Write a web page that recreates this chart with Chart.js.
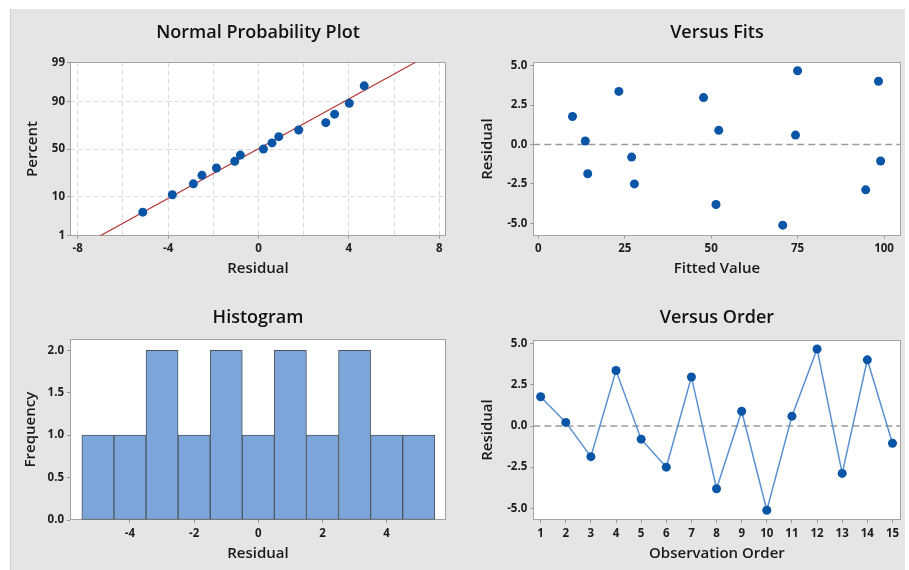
<!DOCTYPE html>
<html><head><meta charset="utf-8">
<script src="https://cdn.jsdelivr.net/npm/chart.js@4.4.0/dist/chart.umd.min.js"></script>
<style>
html,body{margin:0;padding:0;background:#fff;width:909px;height:570px;overflow:hidden;}
#bg{position:absolute;left:10px;top:9px;width:895px;height:561px;background:#e5e5e5;border-left:1px solid #d0d0d0;box-sizing:border-box;}
canvas{position:absolute;}
</style></head><body>
<div id="bg"></div>
<canvas id="c1" width="445" height="276" style="left:10px;top:9px"></canvas>
<canvas id="c2" width="450" height="276" style="left:455px;top:9px"></canvas>
<canvas id="c3" width="445" height="285" style="left:10px;top:285px"></canvas>
<canvas id="c4" width="450" height="285" style="left:455px;top:285px"></canvas>
<script>
// ---------------- data ----------------
const observationOrder = [1,2,3,4,5,6,7,8,9,10,11,12,13,14,15];
const residuals = [1.78, 0.22, -1.86, 3.37, -0.80, -2.50, 2.98, -3.81, 0.90, -5.12, 0.60, 4.68, -2.88, 4.02, -1.05];
const fittedValues = [9.9, 13.6, 14.3, 23.3, 27.0, 27.8, 47.8, 51.4, 52.2, 70.7, 74.4, 75.0, 94.7, 98.4, 99.0];
const probResiduals = [-5.12, -3.81, -2.88, -2.50, -1.86, -1.05, -0.80, 0.22, 0.60, 0.90, 1.78, 2.98, 3.37, 4.02, 4.68];
const probPercents = [4.5, 11.0, 17.5, 24.0, 30.5, 37.0, 43.5, 50.0, 56.5, 63.0, 69.5, 76.0, 82.5, 89.0, 95.5];
const fitLineResiduals = [-7.0, 6.95];
const fitLinePercents = [1, 99];
const percentTicks = [1, 10, 50, 90, 99];
const probXGrid = [-8, -6, -4, -2, 0, 2, 4, 6, 8];
const probXLabels = [-8, -4, 0, 4, 8];
const fitsXTicks = [0, 25, 50, 75, 100];
const residualTicks = [-5, -2.5, 0, 2.5, 5];
const histBinCenters = [-5, -4, -3, -2, -1, 0, 1, 2, 3, 4, 5];
const histCounts = [1, 1, 2, 1, 2, 1, 2, 1, 2, 1, 1];
const histXTicks = [-4, -2, 0, 2, 4];
const histYTicks = [0, 0.5, 1.0, 1.5, 2.0];

// ---------------- helpers ----------------
function normInv(p){
  const a=[-3.969683028665376e+01,2.209460984245205e+02,-2.759285104469687e+02,1.383577518672690e+02,-3.066479806614716e+01,2.506628277459239e+00];
  const b=[-5.447609879822406e+01,1.615858368580409e+02,-1.556989798598866e+02,6.680131188771972e+01,-1.328068155288572e+01];
  const c=[-7.784894002430293e-03,-3.223964580411365e-01,-2.400758277161838e+00,-2.549732539343734e+00,4.374664141464968e+00,2.938163982698783e+00];
  const d=[7.784695709041462e-03,3.224671290700398e-01,2.445134137142996e+00,3.754408661907416e+00];
  const pl=0.02425, ph=1-pl; let q,r;
  if(p<pl){q=Math.sqrt(-2*Math.log(p));return (((((c[0]*q+c[1])*q+c[2])*q+c[3])*q+c[4])*q+c[5])/((((d[0]*q+d[1])*q+d[2])*q+d[3])*q+1);}
  if(p<=ph){q=p-0.5;r=q*q;return (((((a[0]*r+a[1])*r+a[2])*r+a[3])*r+a[4])*r+a[5])*q/(((((b[0]*r+b[1])*r+b[2])*r+b[3])*r+b[4])*r+1);}
  q=Math.sqrt(-2*Math.log(1-p));return -(((((c[0]*q+c[1])*q+c[2])*q+c[3])*q+c[4])*q+c[5])/((((d[0]*q+d[1])*q+d[2])*q+d[3])*q+1);
}
const FONT = "'Open Sans', 'Noto Sans', sans-serif";
const DOT = '#0a55a6';
const TICKC = '#9a9a9a';
const tickFont = {family: FONT, size: 11.5, weight: '700', lineHeight: 1.2};
const axisTitleFont = {family: FONT, size: 15, weight: '600', lineHeight: 1.2};
const titleFont = {family: FONT, size: 18, weight: '600', lineHeight: 1.2};

const framePlugin = {
  id: 'frame',
  beforeDraw(chart){
    const {ctx, chartArea:a} = chart;
    ctx.save(); ctx.fillStyle = '#ffffff';
    ctx.fillRect(a.left, a.top, a.right - a.left, a.bottom - a.top);
    ctx.restore();
  },
  beforeDatasetsDraw(chart){
    const {ctx, chartArea:a} = chart;
    ctx.save(); ctx.strokeStyle = '#a3a3a3'; ctx.lineWidth = 1;
    const l = Math.round(a.left) + 0.5, t = Math.round(a.top) + 0.5;
    const r = Math.round(a.right) - 0.5, b = Math.round(a.bottom) - 0.5;
    ctx.strokeRect(l, t, r - l, b - t);
    ctx.restore();
  }
};

function fixedTicks(values){
  return function(axis){ axis.ticks = values.map(v => ({value: v})); };
}
function xAxis(o){
  return {
    type: 'linear', min: o.min, max: o.max, offset: false,
    afterBuildTicks: fixedTicks(o.ticks),
    afterFit(axis){ axis.height = o.height; axis.paddingLeft = 0; axis.paddingRight = 0; },
    ticks: {autoSkip: false, maxRotation: 0, minRotation: 0, padding: o.tickPad, color: '#1e1e1e', font: tickFont,
            callback: o.label},
    grid: {offset: false, display: true, drawOnChartArea: !!o.gridColor, drawTicks: true, tickLength: 3,
           color: o.gridColor || 'rgba(0,0,0,0)', tickBorderDash: [], tickWidth: 1,
           tickColor: o.tickColor || TICKC, lineWidth: 1},
    border: {display: false, dash: [5, 3]},
    title: {display: true, text: o.title, color: '#1a1a1a', font: axisTitleFont, padding: {top: 0, bottom: o.titlePad}}
  };
}
function yAxis(o){
  return {
    type: 'linear', min: o.min, max: o.max,
    afterBuildTicks: fixedTicks(o.ticks),
    afterFit(axis){ axis.width = o.width; axis.paddingTop = 0; axis.paddingBottom = 0; },
    ticks: {autoSkip: false, padding: o.tickPad, color: '#1e1e1e', font: tickFont, callback: o.label},
    grid: {display: true, drawOnChartArea: !!o.gridColor, drawTicks: true, tickLength: 3,
           color: o.gridColor || 'rgba(0,0,0,0)', tickBorderDash: [], tickWidth: 1,
           tickColor: TICKC, lineWidth: 1},
    border: {display: false, dash: [5, 3]},
    title: {display: true, text: o.title, color: '#1a1a1a', font: axisTitleFont, padding: {top: o.titlePad, bottom: 0}}
  };
}
function basePlugins(text, top, bottom){
  return {
    legend: {display: false}, tooltip: {enabled: false},
    title: {display: true, text: text, fullSize: false, color: '#111', font: titleFont, padding: {top: top, bottom: bottom}}
  };
}
Chart.defaults.animation = false;
Chart.defaults.font.family = FONT;

// ---------------- 1. Normal probability plot ----------------
new Chart(document.getElementById('c1'), {
  type: 'scatter',
  data: {datasets: [
    {type: 'line', data: fitLineResiduals.map((x, i) => ({x: x, y: normInv(fitLinePercents[i] / 100)})),
     borderColor: '#b3302e', borderWidth: 1.2, pointRadius: 0, fill: false, order: 2},
    {data: probResiduals.map((x, i) => ({x: x, y: normInv(probPercents[i] / 100)})),
     backgroundColor: DOT, borderColor: DOT, pointRadius: 4.5, borderWidth: 0, order: 1}
  ]},
  options: {
    responsive: false, animation: false,
    layout: {padding: {left: 0, right: 9, top: 0, bottom: 0}},
    plugins: basePlugins('Normal Probability Plot', 13.5, 18.2),
    scales: {
      x: xAxis({min: -8.34, max: 8.30, ticks: probXGrid, height: 49.3, tickPad: 3.1, title: 'Residual', titlePad: 7.7,
                gridColor: '#d9d9d9',
                tickColor: ctx => (ctx.tick && probXLabels.includes(ctx.tick.value)) ? TICKC : 'rgba(0,0,0,0)',
                label: v => probXLabels.includes(v) ? String(v) : ''}),
      y: yAxis({min: normInv(percentTicks[0] / 100), max: normInv(percentTicks[percentTicks.length - 1] / 100),
                ticks: percentTicks.map(p => normInv(p / 100)), width: 60, tickPad: 2, title: 'Percent', titlePad: 13.5,
                gridColor: '#d9d9d9', label: (v, i) => String(percentTicks[i])})
    }
  },
  plugins: [framePlugin]
});

// ---------------- 2. Versus fits ----------------
const fitsXMin = -1.44, fitsXMax = 104.76;
new Chart(document.getElementById('c2'), {
  type: 'scatter',
  data: {datasets: [
    {type: 'line', data: [{x: fitsXMin, y: 0}, {x: fitsXMax, y: 0}], borderColor: '#9c9c9c', borderWidth: 1.3,
     borderDash: [7, 4], pointRadius: 0, fill: false, order: 2},
    {data: fittedValues.map((x, i) => ({x: x, y: residuals[i]})),
     backgroundColor: DOT, borderColor: DOT, pointRadius: 4.5, borderWidth: 0, order: 1}
  ]},
  options: {
    responsive: false, animation: false,
    layout: {padding: {left: 0, right: 1.7, top: 0, bottom: 0}},
    plugins: basePlugins('Versus Fits', 13.5, 18.2),
    scales: {
      x: xAxis({min: fitsXMin, max: fitsXMax, ticks: fitsXTicks, height: 49.3, tickPad: 3.1, title: 'Fitted Value', titlePad: 7,
                label: v => String(v)}),
      y: yAxis({min: -5.79, max: 5.22, ticks: residualTicks, width: 78.3, tickPad: 3, title: 'Residual', titlePad: 23.5,
                label: v => v.toFixed(1)})
    }
  },
  plugins: [framePlugin]
});

// ---------------- 3. Histogram ----------------
new Chart(document.getElementById('c3'), {
  type: 'bar',
  data: {datasets: [
    {data: histBinCenters.map((x, i) => ({x: x, y: histCounts[i]})),
     backgroundColor: '#7ca6d9', borderColor: '#4c5661', borderWidth: 1, borderSkipped: false,
     barPercentage: 1, categoryPercentage: 1, grouped: false}
  ]},
  options: {
    responsive: false, animation: false,
    layout: {padding: {left: 0, right: 9, top: 0, bottom: 0}},
    plugins: basePlugins('Histogram', 22.5, 10.2),
    scales: {
      x: xAxis({min: -5.87, max: 5.85, ticks: histXTicks, height: 50, tickPad: 4.3, title: 'Residual', titlePad: 7.2,
                label: v => String(v)}),
      y: yAxis({min: 0, max: 2.13, ticks: histYTicks, width: 60, tickPad: 3, title: 'Frequency', titlePad: 11.5,
                label: v => v.toFixed(1)})
    }
  },
  plugins: [framePlugin]
});

// ---------------- 4. Versus order ----------------
const orderXMin = 0.708, orderXMax = 15.32;
new Chart(document.getElementById('c4'), {
  type: 'scatter',
  data: {datasets: [
    {type: 'line', data: [{x: orderXMin, y: 0}, {x: orderXMax, y: 0}], borderColor: '#9c9c9c', borderWidth: 1.3,
     borderDash: [7, 4], pointRadius: 0, fill: false, order: 3},
    {type: 'line', data: observationOrder.map((x, i) => ({x: x, y: residuals[i]})),
     borderColor: '#5a90d2', borderWidth: 1.5, pointRadius: 4.5, pointBackgroundColor: DOT, pointBorderWidth: 0,
     fill: false, tension: 0, order: 1}
  ]},
  options: {
    responsive: false, animation: false,
    layout: {padding: {left: 0, right: 1.7, top: 0, bottom: 0}},
    plugins: basePlugins('Versus Order', 22.5, 10.9),
    scales: {
      x: xAxis({min: orderXMin, max: orderXMax, ticks: observationOrder, height: 50, tickPad: 4.3, title: 'Observation Order', titlePad: 7.2,
                label: v => String(v)}),
      y: yAxis({min: -5.71, max: 5.225, ticks: residualTicks, width: 78.3, tickPad: 3, title: 'Residual', titlePad: 23.5,
                label: v => v.toFixed(1)})
    }
  },
  plugins: [framePlugin]
});
</script>
</body></html>
